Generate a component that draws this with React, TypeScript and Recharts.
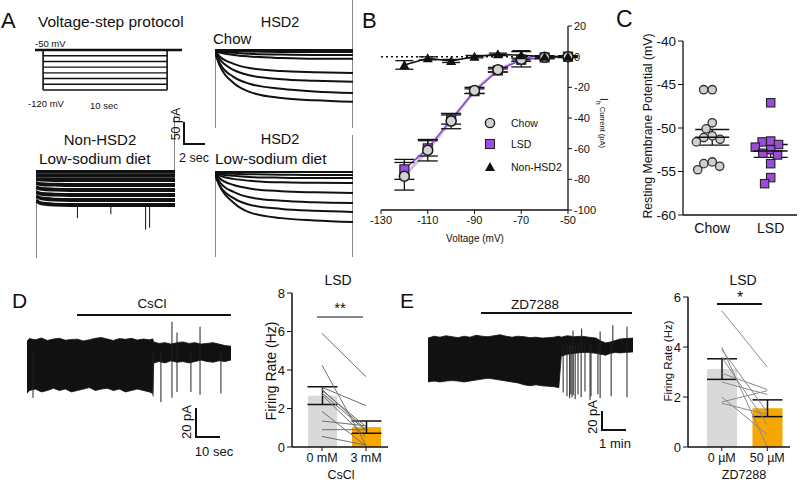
import React from "react";
import {
  ComposedChart,
  LineChart,
  ScatterChart,
  Line,
  Bar,
  Area,
  Scatter,
  XAxis,
  YAxis,
  ErrorBar,
  ReferenceLine,
  Cell,
} from "recharts";

const FONT = '"Liberation Sans", Arial, Helvetica, sans-serif';
const INK = "#111";

// ---------- A: voltage protocol and Ih sweeps ----------
const protocolLevels = [-50, -60, -70, -80, -90, -100, -110, -120];
const sweepTimes = [0, 0.4, 1.4, 2.6, 5, 7.5, 10.4]; // sec

// pA, one row per voltage step (-50 ... -120 mV)
const chowSweeps = [
  [0, 0, 0, 0, 0, 0, 0],
  [-1, -2, -3, -4, -5, -5, -5],
  [-2, -4, -7, -10, -12, -13, -13],
  [-3, -7, -13, -17, -21, -23, -23],
  [-4, -18, -36, -47, -55, -58, -60],
  [-5, -26, -52, -66, -76, -80, -83],
  [-6, -37, -70, -88, -101, -108, -112],
  [-8, -44, -86, -109, -125, -131, -135],
];
const lsdSweeps = [
  [0, 0, 0, 0, 0, 0, 0],
  [-1, -3, -5, -6, -7, -8, -8],
  [-2, -6, -10, -13, -15, -16, -16],
  [-3, -10, -18, -23, -27, -28, -29],
  [-4, -18, -34, -43, -50, -53, -55],
  [-5, -28, -52, -66, -75, -79, -81],
  [-6, -38, -68, -85, -96, -101, -104],
  [-8, -40, -80, -105, -120, -126, -130],
];
const nonHsd2Sweeps = [
  [0, 0, 0, 0, 0, 0, 0],
  [-8, -10, -10, -10, -10, -10, -10],
  [-18, -20, -21, -21, -21, -21, -21],
  [-29, -32, -33, -34, -34, -34, -34],
  [-40, -44, -46, -47, -47, -47, -47],
  [-52, -57, -59, -60, -60, -60, -60],
  [-63, -69, -72, -73, -73, -73, -73],
  [-74, -82, -85, -86, -86, -86, -86],
];
// [time, from, to] capacitive transients / noise events
const chowTransients = [[0, 0, -203], [10.4, 130, -203]];
const lsdTransients = [[0, 0, -221], [10.4, 96, -221]];
const nonHsd2Transients = [
  [0, 0, -224], [10.4, 148, 0],
  [3.1, -86, -120], [5.6, -86, -110], [8.2, -86, -150], [8.5, -86, -145],
];

// ---------- B: Ih I-V ----------
const voltages = [-120, -110, -100, -90, -80, -70, -60, -50];
const chowIh = [-78, -61, -42, -22, -8.5, -1.7, -0.4, 0];
const chowIhErr = [9, 7, 5, 2, 1.5, 5, 1, 0.5];
const lsdIh = [-73.5, -59.8, -41, -22.5, -9, -2, -0.5, 0];
const lsdIhErr = [6.5, 5, 3, 1.5, 1, 1, 0.5, 0.5];
const nonIh = [-5.4, -1.1, -2.8, 0, 1.5, 0.9, 0, 0];
const nonIhErr = [2.8, 1, 1, 0.8, 0.8, 3, 0.5, 0.5];

// ---------- C: resting membrane potential ----------
const rmpChow = [-45.6, -45.6, -49.4, -50.1, -50.9, -51.3, -51.6, -51.1, -54.1, -54.8, -54.4, -53.9];
const rmpLsd = [-47.1, -51.5, -51.9, -51.6, -52.5, -52.2, -53.1, -52.9, -54.1, -55.7, -56.4];

// ---------- D: CsCl ----------
const dTime = [0, 1, 3.5, 6, 8.5, 11, 13.5, 16, 18.5, 21, 23.5, 26, 28.5, 31, 33.5, 36, 38.5, 41, 43.5, 46, 48.5, 51, 52.4, 52.8, 55, 57.5, 60, 62.5, 65, 67.5, 70, 72.5, 75, 77.5, 80, 82.5, 85];
const dHigh = [-1, 0.8, 0, 1.2, -0.5, 0.5, 1, -0.3, 0.2, 0.4, -0.8, 0, 1, 1.5, 0.5, -0.5, 0.8, 0.3, 1, -0.2, 0.5, 0, 0.6, -1.5, -2.5, -2, -3, -2, -1.5, -2.5, -2, -3, -2.5, -2, -3, -4, -4.5];
const dLow = [-37, -35, -34, -36, -35, -33.5, -35, -34, -36, -35, -34, -33, -35, -34, -33.5, -35, -34, -36, -35, -34, -35, -36, -37, -16, -15, -16, -14.5, -15.5, -15, -16, -15, -14, -15, -15.5, -14.5, -15, -14];
// [sec, peak pA]
const dSpikes = [[2.5, -40], [52.5, -39], [55.8, -43], [60.4, -40], [62.5, -36], [68.3, -36], [72.1, -38], [80.8, -37], [60.4, 12.4], [62.5, 5], [72.1, 9]];
const csclBefore = [5.9, 4.25, 3.1, 2.95, 2.8, 2.7, 1.85, 1.35, 0.9, 0.55, 3.0];
const csclAfter = [3.65, 0.1, 2.15, 1.05, 0.85, 0.5, 0.05, 1.1, 0.9, 0.1, 0.9];

// ---------- E: ZD7288 ----------
const eTime = [0, 0.25, 0.5, 0.75, 1, 1.25, 1.5, 1.75, 2, 2.25, 2.5, 2.75, 3, 3.25, 3.5, 3.75, 4, 4.25, 4.5, 4.75, 5, 5.25, 5.45, 5.55, 5.8, 6.1, 6.4, 6.7, 7, 7.2, 7.4, 7.6, 7.8, 8, 8.2, 8.54];
const eHigh = [-1, 1, 0, 1.5, 0.5, -0.5, 1, 0, 2, 1, 0.5, 1.5, 2.5, 1, 0, 1, 0.5, -0.5, 0, -1, -0.5, 0, 1, 0, 1.5, 0.5, 1, 0, -1, -4, -6, -5, -3.5, -2, -1.5, -1];
const eLow = [-47, -46, -47, -46, -45.5, -46, -47, -46, -45, -44, -43, -44, -45, -46, -47, -48, -50, -51, -50, -51, -51.5, -52, -53, -20, -18, -17, -16, -16, -17, -18, -19, -17, -16, -16.5, -16, -15.5];
const eSpikes = [
  [5.63, -58], [5.79, -62], [5.9, -64], [5.95, -60], [6.0, -63], [6.05, -61], [6.13, -65],
  [6.25, -60], [6.38, -63], [6.54, -57], [6.75, -66], [6.79, -62], [7.08, -60], [7.17, -64],
  [7.63, -62], [8.29, -63], [6.04, 7], [6.4, 9], [7.17, 6], [7.7, 12.6], [8.29, 11],
];
const zdBefore = [5.45, 4.0, 3.9, 2.95, 2.6, 2.0, 1.8, 1.75, 3.6];
const zdAfter = [3.2, 0.0, 1.4, 2.3, 2.1, 0.5, 2.25, 1.3, 0.9];

// ---------- helpers ----------
const mean = (a: number[]) => a.reduce((s, v) => s + v, 0) / a.length;
const sem = (a: number[]) => {
  const m = mean(a);
  const v = a.reduce((s, x) => s + (x - m) * (x - m), 0) / (a.length - 1);
  return Math.sqrt(v / a.length);
};

// beeswarm offsets (in px) so dots of diameter d don't overlap
function swarm(values: number[], pxPerY: number, d: number) {
  const placed: { x: number; y: number }[] = [];
  const out = new Array(values.length).fill(0);
  const order = values.map((_, i) => i).sort((a, b) => values[b] - values[a]);
  for (const i of order) {
    const y = values[i] * pxPerY;
    const blocked: [number, number][] = [];
    for (const p of placed) {
      const dy = Math.abs(p.y - y);
      if (dy < d) {
        const w = Math.sqrt(d * d - dy * dy);
        blocked.push([p.x - w, p.x + w]);
      }
    }
    const cands = [0, ...blocked.flat()].sort((a, b) => Math.abs(a) - Math.abs(b));
    const x = cands.find((c) => blocked.every(([lo, hi]) => c <= lo + 1e-6 || c >= hi - 1e-6)) ?? 0;
    placed.push({ x, y });
    out[i] = x;
  }
  return out;
}

function eventRows(events: number[][]) {
  const rows: { t: number; v: number | null }[] = [];
  events.forEach(([t, a, b]) => {
    rows.push({ t, v: a }, { t, v: b }, { t: t + 0.0001, v: null });
  });
  return rows;
}

function Txt({ x, y, size = 13, anchor = "middle", rotate = 0, children }: any) {
  const tx = anchor === "middle" ? "-50%" : anchor === "end" ? "-100%" : "0";
  return (
    <div
      style={{
        position: "absolute",
        left: x,
        top: y,
        transform: `translate(${tx}, -50%) rotate(${rotate}deg)`,
        fontSize: size,
        lineHeight: 1,
        whiteSpace: "nowrap",
        color: INK,
      }}
    >
      {children}
    </div>
  );
}

function HRule({ x1, x2, y, w = 1.5, color = INK }: any) {
  return <div style={{ position: "absolute", left: x1, top: y - w / 2, width: x2 - x1, height: w, background: color }} />;
}
function VRule({ x, y1, y2, w = 1.5, color = INK }: any) {
  return <div style={{ position: "absolute", left: x - w / 2, top: y1, width: w, height: y2 - y1, background: color }} />;
}

// ---------- panels ----------
function ProtocolPanel() {
  return (
    <div style={{ position: "absolute", left: 35, top: 48 }}>
      <LineChart width={147} height={44} margin={{ top: 0, right: 0, bottom: 0, left: 0 }}>
        <XAxis type="number" dataKey="t" domain={[-0.65, 11.2]} hide allowDataOverflow />
        <YAxis type="number" domain={[-123.5, -46.5]} hide allowDataOverflow />
        {protocolLevels.map((v) => (
          <Line
            key={v}
            data={v === -50 ? [{ t: -0.65, v }, { t: 11.2, v }] : [{ t: 0, v }, { t: 10, v }]}
            dataKey="v"
            stroke={INK}
            strokeWidth={v === -50 ? 2.5 : 1.4}
            dot={false}
            isAnimationActive={false}
          />
        ))}
        <Line
          data={eventRows([[0, -50, -120], [10, -50, -120]])}
          dataKey="v"
          stroke={INK}
          strokeWidth={1.6}
          dot={false}
          isAnimationActive={false}
        />
      </LineChart>
    </div>
  );
}

function SweepPanel({ left, top, width, height, sweeps, yDomain, events, sw }: any) {
  const rows = sweepTimes.map((t, i) => {
    const r: any = { t };
    sweeps.forEach((s: number[], k: number) => (r["s" + k] = s[i]));
    return r;
  });
  return (
    <div style={{ position: "absolute", left, top }}>
      <LineChart width={width} height={height} data={rows} margin={{ top: 0, right: 0, bottom: 0, left: 0 }}>
        <XAxis type="number" dataKey="t" domain={[0, 10.4]} hide allowDataOverflow />
        <YAxis type="number" domain={yDomain} hide allowDataOverflow />
        {sweeps.map((_: any, k: number) => (
          <Line key={k} dataKey={"s" + k} type="monotone" stroke={INK} strokeWidth={sw} dot={false} isAnimationActive={false} />
        ))}
        <Line data={eventRows(events)} dataKey="v" stroke={INK} strokeWidth={1} dot={false} isAnimationActive={false} />
      </LineChart>
    </div>
  );
}

function IVPanel() {
  const rows = voltages.map((v, i) => ({
    v,
    chow: chowIh[i],
    chowErr: chowIhErr[i],
    lsd: lsdIh[i],
    lsdErr: lsdIhErr[i],
    non: nonIh[i],
    nonErr: nonIhErr[i],
  }));
  const tick = { fontSize: 11, fill: INK, fontFamily: FONT };
  return (
    <div style={{ position: "absolute", left: 360, top: 10 }}>
      <ComposedChart width={250} height={245} data={rows} margin={{ top: 16, right: 12, bottom: 20, left: 21 }}>
        <XAxis
          type="number"
          dataKey="v"
          domain={[-130, -50]}
          ticks={[-130, -110, -90, -70, -50]}
          tick={tick}
          tickSize={4}
          height={25}
          axisLine={{ stroke: INK, strokeWidth: 1.3 }}
          tickLine={{ stroke: INK }}
        />
        <YAxis
          type="number"
          orientation="right"
          domain={[-100, 20]}
          ticks={[20, 0, -20, -40, -60, -80, -100]}
          tick={tick}
          tickSize={4}
          width={30}
          axisLine={{ stroke: INK, strokeWidth: 1.3 }}
          tickLine={{ stroke: INK }}
        />
        <ReferenceLine y={0} stroke={INK} strokeWidth={1.5} strokeDasharray="2 3" />
        <Line dataKey="chow" stroke="#cbc2da" strokeWidth={3} dot={false} isAnimationActive={false} />
        <Line
          dataKey="lsd"
          stroke="#8d3fd9"
          strokeWidth={1.5}
          isAnimationActive={false}
          dot={(p: any) => (
            <rect key={p.key ?? p.index} x={p.cx - 4.5} y={p.cy - 4.5} width={9} height={9} fill="#9b4fe0" stroke="#222" strokeWidth={1.2} />
          )}
        >
          <ErrorBar dataKey="lsdErr" width={10} stroke={INK} strokeWidth={1.3} direction="y" />
        </Line>
        <Line
          dataKey="chow"
          stroke="none"
          isAnimationActive={false}
          dot={(p: any) => (
            <circle key={p.key ?? p.index} cx={p.cx} cy={p.cy} r={5} fill="#d2d2d2" stroke="#1a1a1a" strokeWidth={1.5} />
          )}
        >
          <ErrorBar dataKey="chowErr" width={10} stroke={INK} strokeWidth={1.3} direction="y" />
        </Line>
        <Line
          dataKey="non"
          stroke={INK}
          strokeWidth={1.6}
          isAnimationActive={false}
          dot={(p: any) => (
            <polygon key={p.key ?? p.index} points={`${p.cx},${p.cy - 5} ${p.cx - 5},${p.cy + 4} ${p.cx + 5},${p.cy + 4}`} fill={INK} />
          )}
        >
          <ErrorBar dataKey="nonErr" width={9} stroke={INK} strokeWidth={1.3} direction="y" />
        </Line>
      </ComposedChart>
    </div>
  );
}

function RmpPanel() {
  const pxPerY = 174 / 20;
  const pxPerX = 114 / 1.95;
  const jc = swarm(rmpChow, pxPerY, 8.6);
  const jl = swarm(rmpLsd, pxPerY, 8.6);
  const chowPts = rmpChow.map((y, i) => ({ x: 1 + jc[i] / pxPerX, y }));
  const lsdPts = rmpLsd.map((y, i) => ({ x: 2 + jl[i] / pxPerX, y }));
  const means = [
    { x: 1, y: mean(rmpChow), err: sem(rmpChow) },
    { x: 2, y: mean(rmpLsd), err: sem(rmpLsd) },
  ];
  const names = ["", "Chow", "LSD"];
  return (
    <div style={{ position: "absolute", left: 620, top: 31 }}>
      <ScatterChart width={180} height={220} margin={{ top: 10, right: 3, bottom: 11, left: 5 }}>
        <XAxis
          type="number"
          dataKey="x"
          domain={[0.5, 2.45]}
          ticks={[1, 2]}
          tickFormatter={(v: number) => names[v]}
          tick={{ fontSize: 14, fill: INK, fontFamily: FONT }}
          tickLine={false}
          height={25}
          axisLine={{ stroke: INK, strokeWidth: 1.3 }}
        />
        <YAxis
          type="number"
          dataKey="y"
          domain={[-60, -40]}
          ticks={[-60, -55, -50, -45, -40]}
          tick={{ fontSize: 13.5, fill: INK, fontFamily: FONT }}
          tickSize={5}
          width={58}
          axisLine={{ stroke: INK, strokeWidth: 1.3 }}
          tickLine={{ stroke: INK }}
        />
        <Scatter
          data={chowPts}
          isAnimationActive={false}
          shape={(p: any) => <circle cx={p.cx} cy={p.cy} r={4.2} fill="#cfcfcf" stroke="#333" strokeWidth={1.3} />}
        />
        <Scatter
          data={lsdPts}
          isAnimationActive={false}
          shape={(p: any) => (
            <rect x={p.cx - 4.2} y={p.cy - 4.2} width={8.4} height={8.4} fill="#9a4cdb" stroke="#222" strokeWidth={1.1} />
          )}
        />
        <Scatter
          data={means}
          isAnimationActive={false}
          shape={(p: any) => <line x1={p.cx - 17} x2={p.cx + 17} y1={p.cy} y2={p.cy} stroke={INK} strokeWidth={1.5} />}
        >
          <ErrorBar dataKey="err" direction="y" width={17} stroke={INK} strokeWidth={1.3} />
        </Scatter>
      </ScatterChart>
    </div>
  );
}

function FiringPanel({ left, top, width, height, margin, padLeft, labels, before, after, yMax, ticks, barSize, pairColor }: any) {
  const rows = [before, after].map((vals: number[], c: number) => {
    const r: any = { cond: labels[c], mean: mean(vals), err: sem(vals) };
    vals.forEach((v, k) => (r["p" + k] = v));
    return r;
  });
  const fills = ["#d9d9d9", "#f7a800"];
  return (
    <div style={{ position: "absolute", left, top }}>
      <ComposedChart width={width} height={height} data={rows} margin={margin}>
        <XAxis
          dataKey="cond"
          padding={{ left: padLeft, right: 0 }}
          tick={{ fontSize: 12.5, fill: INK, fontFamily: FONT }}
          tickSize={4}
          height={22}
          axisLine={{ stroke: INK, strokeWidth: 1.5 }}
          tickLine={{ stroke: INK }}
        />
        <YAxis
          type="number"
          domain={[0, yMax]}
          ticks={ticks}
          tick={{ fontSize: 13, fill: INK, fontFamily: FONT }}
          tickSize={5}
          width={28}
          axisLine={{ stroke: INK, strokeWidth: 1.5 }}
          tickLine={{ stroke: INK }}
        />
        <Bar dataKey="mean" barSize={barSize} isAnimationActive={false}>
          {rows.map((_, i) => (
            <Cell key={i} fill={fills[i]} />
          ))}
          <ErrorBar dataKey="err" width={15} stroke={INK} strokeWidth={1.5} direction="y" />
        </Bar>
        {before.map((_: number, k: number) => (
          <Line key={k} dataKey={"p" + k} stroke={pairColor} strokeWidth={1} dot={false} isAnimationActive={false} />
        ))}
      </ComposedChart>
    </div>
  );
}

function TracePanel({ left, top, width, height, time, high, low, spikes, xMax, yDomain }: any) {
  const rows = time.map((t: number, i: number) => ({ t, range: [low[i], high[i]] }));
  const spikeRows = eventRows(spikes.map(([t, peak]: number[]) => [t, -8, peak]));
  return (
    <div style={{ position: "absolute", left, top }}>
      <ComposedChart width={width} height={height} data={rows} margin={{ top: 0, right: 0, bottom: 0, left: 0 }}>
        <XAxis type="number" dataKey="t" domain={[0, xMax]} hide allowDataOverflow />
        <YAxis type="number" domain={yDomain} hide allowDataOverflow />
        <Area dataKey="range" type="linear" stroke={INK} strokeWidth={0.8} fill={INK} fillOpacity={1} isAnimationActive={false} />
        <Line data={spikeRows} dataKey="v" stroke="#222" strokeWidth={1} dot={false} isAnimationActive={false} />
      </ComposedChart>
    </div>
  );
}

function LegendItem({ y, label, icon }: any) {
  return (
    <>
      <svg style={{ position: "absolute", left: 484, top: y - 6 }} width={12} height={12}>
        {icon}
      </svg>
      <Txt x={511} y={y} size={10.5} anchor="start">
        {label}
      </Txt>
    </>
  );
}

export default function App() {
  return (
    <div
      style={{
        position: "absolute",
        left: 0,
        top: 0,
        width: 800,
        height: 483,
        background: "#fff",
        fontFamily: FONT,
        overflow: "hidden",
      }}
    >
      {/* A */}
      <Txt x={1} y={21} size={22} anchor="start">A</Txt>
      <Txt x={38} y={22} size={15.5} anchor="start">Voltage-step protocol</Txt>
      <Txt x={35} y={43.5} size={9.5} anchor="start">-50 mV</Txt>
      <Txt x={28} y={104} size={9.5} anchor="start">-120 mV</Txt>
      <Txt x={90} y={106} size={9.5} anchor="start">10 sec</Txt>
      <ProtocolPanel />
      <Txt x={280} y={22} size={14.5}>HSD2</Txt>
      <Txt x={213} y={38} size={15} anchor="start">Chow</Txt>
      <SweepPanel left={215} top={0} width={138} height={128} sweeps={chowSweeps} yDomain={[-203, 130]} events={chowTransients} sw={2} />
      <Txt x={100} y={139} size={15}>Non-HSD2</Txt>
      <Txt x={39} y={158.5} size={15.3} anchor="start">Low-sodium diet</Txt>
      <SweepPanel left={36} top={110} width={139} height={150} sweeps={nonHsd2Sweeps} yDomain={[-229, 161]} events={nonHsd2Transients} sw={3.8} />
      <Txt x={280} y={139} size={14.5}>HSD2</Txt>
      <Txt x={215} y={158.5} size={15.3} anchor="start">Low-sodium diet</Txt>
      <SweepPanel left={215} top={135} width={138} height={122} sweeps={lsdSweeps} yDomain={[-221, 96]} events={lsdTransients} sw={2} />
      <VRule x={184} y1={122} y2={144} w={1.6} />
      <HRule x1={183.2} x2={205} y={144} w={1.6} />
      <Txt x={176} y={124} size={12.5} rotate={-90}>50 pA</Txt>
      <Txt x={194} y={158} size={12.5}>2 sec</Txt>

      {/* B */}
      <Txt x={362} y={21} size={22} anchor="start">B</Txt>
      <IVPanel />
      <Txt x={475} y={239} size={10}>Voltage (mV)</Txt>
      <Txt x={603} y={123} rotate={90}>
        <span style={{ fontSize: 10 }}>I</span>
        <sub style={{ fontSize: 7 }}>h</sub>
        <span style={{ fontSize: 7.5 }}> Current (pA)</span>
      </Txt>
      <LegendItem y={123} label="Chow" icon={<circle cx={6} cy={6} r={4.6} fill="#d2d2d2" stroke="#1a1a1a" strokeWidth={1.4} />} />
      <LegendItem y={144} label="LSD" icon={<rect x={1.5} y={1.5} width={9} height={9} fill="#9b4fe0" stroke="#222" strokeWidth={1.1} />} />
      <LegendItem y={167} label="Non-HSD2" icon={<polygon points="6,1 1,10 11,10" fill={INK} />} />

      {/* C */}
      <Txt x={616} y={19} size={23} anchor="start">C</Txt>
      <RmpPanel />
      <Txt x={648} y={126} size={12.3} rotate={-90}>Resting Membrane Potential (mV)</Txt>

      {/* D */}
      <Txt x={12} y={300} size={21} anchor="start">D</Txt>
      <Txt x={152} y={304} size={13.5}>CsCl</Txt>
      <HRule x1={77} x2={231} y={315} w={1.6} />
      <TracePanel left={27} top={318} width={204} height={87} time={dTime} high={dHigh} low={dLow} spikes={dSpikes} xMax={85} yDomain={[-45, 15]} />
      <VRule x={196} y1={408} y2={437} w={1.6} />
      <HRule x1={195.2} x2={220} y={437} w={1.6} />
      <Txt x={186} y={422} size={13} rotate={-90}>20 pA</Txt>
      <Txt x={214} y={451} size={13}>10 sec</Txt>

      <Txt x={338} y={280} size={14}>LSD</Txt>
      <Txt x={340} y={307} size={15}>**</Txt>
      <HRule x1={317} x2={363} y={317} w={1.5} color="#888" />
      <FiringPanel
        left={255}
        top={283}
        width={140}
        height={200}
        margin={{ top: 10, right: 7, bottom: 14, left: 9 }}
        padLeft={8}
        labels={["0 mM", "3 mM"]}
        before={csclBefore}
        after={csclAfter}
        yMax={8}
        ticks={[0, 2, 4, 6, 8]}
        barSize={29}
        pairColor="#6f6f6f"
      />
      <Txt x={271} y={371} size={14}  rotate={-90}>Firing Rate (Hz)</Txt>
      <Txt x={341} y={475} size={12.5}>CsCl</Txt>

      {/* E */}
      <Txt x={400} y={300} size={21} anchor="start">E</Txt>
      <Txt x={535} y={305} size={13.5}>ZD7288</Txt>
      <HRule x1={481} x2={632} y={313} w={1.6} />
      <TracePanel left={428} top={320} width={205} height={82} time={eTime} high={eHigh} low={eLow} spikes={eSpikes} xMax={8.54} yDomain={[-68, 18]} />
      <VRule x={602} y1={411} y2={430} w={1.6} />
      <HRule x1={601.2} x2={626} y={430} w={1.6} />
      <Txt x={592} y={417} size={13} rotate={-90}>20 pA</Txt>
      <Txt x={615} y={443} size={13}>1 min</Txt>

      <Txt x={743} y={280} size={14}>LSD</Txt>
      <Txt x={740} y={298} size={16}>*</Txt>
      <HRule x1={717} x2={762} y={304} w={1.3} />
      <FiringPanel
        left={645}
        top={287}
        width={155}
        height={196}
        margin={{ top: 10, right: 10, bottom: 14, left: 15 }}
        padLeft={11}
        labels={["0 µM", "50 µM"]}
        before={zdBefore}
        after={zdAfter}
        yMax={6}
        ticks={[0, 2, 4, 6]}
        barSize={30}
        pairColor="#8a8a8a"
      />
      <Txt x={669} y={361} size={11.5} rotate={-90}>Firing Rate (Hz)</Txt>
      <Txt x={744} y={475} size={12.5}>ZD7288</Txt>
    </div>
  );
}
